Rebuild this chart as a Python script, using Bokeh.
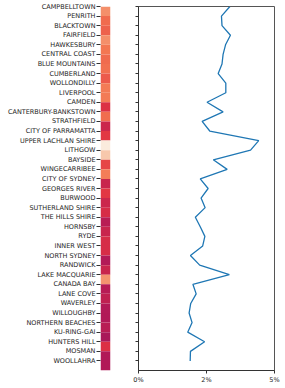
from bokeh.plotting import figure
from bokeh.layouts import row
from bokeh.models import Range1d, FixedTicker, LinearColorMapper, ColumnDataSource, PrintfTickFormatter
from bokeh.embed import file_html
from bokeh.resources import INLINE

# ---- data ----
categories = [
    "CAMPBELLTOWN", "PENRITH", "BLACKTOWN", "FAIRFIELD", "HAWKESBURY", "CENTRAL COAST",
    "BLUE MOUNTAINS", "CUMBERLAND", "WOLLONDILLY", "LIVERPOOL", "CAMDEN",
    "CANTERBURY-BANKSTOWN", "STRATHFIELD", "CITY OF PARRAMATTA", "UPPER LACHLAN SHIRE",
    "LITHGOW", "BAYSIDE", "WINGECARRIBEE", "CITY OF SYDNEY", "GEORGES RIVER", "BURWOOD",
    "SUTHERLAND SHIRE", "THE HILLS SHIRE", "HORNSBY", "RYDE", "INNER WEST", "NORTH SYDNEY",
    "RANDWICK", "LAKE MACQUARIE", "CANADA BAY", "LANE COVE", "WAVERLEY", "WILLOUGHBY",
    "NORTHERN BEACHES", "KU-RING-GAI", "HUNTERS HILL", "MOSMAN", "WOOLLAHRA",
]
heat_values = [
    0.77, 0.69, 0.67, 0.77, 0.715, 0.69, 0.70, 0.655, 0.725, 0.725,
    0.555, 0.695, 0.51, 0.58, 1.00, 0.91, 0.61, 0.73, 0.50, 0.58,
    0.51, 0.54, 0.46, 0.50, 0.54, 0.54, 0.445, 0.50, 0.785, 0.455,
    0.48, 0.445, 0.44, 0.46, 0.42, 0.555, 0.44, 0.44,
]
line_pct = [
    3.36, 3.05, 3.07, 3.38, 3.20, 3.11, 3.07, 2.93, 3.21, 3.21,
    2.52, 3.11, 2.34, 2.62, 4.42, 4.12, 2.75, 3.26, 2.27, 2.56,
    2.30, 2.45, 2.09, 2.27, 2.44, 2.36, 1.91, 2.25, 3.34, 2.00,
    2.12, 1.92, 1.86, 1.97, 1.81, 2.43, 1.91, 1.90,
]
x_ticks = [0, 2.5, 5]

n = len(categories)
idx = list(range(n))

# ---- rocket-like palette ----
anchors = [(0.0, "#03051A"), (1/7, "#35193E"), (2/7, "#701F57"), (3/7, "#AD1759"),
           (4/7, "#E13342"), (5/7, "#F37651"), (6/7, "#F6B48F"), (1.0, "#FAEBDD")]
def _rgb(h):
    return [int(h[i:i+2], 16) for i in (1, 3, 5)]
palette = []
for k in range(256):
    t = k / 255
    for (t0, c0), (t1, c1) in zip(anchors[:-1], anchors[1:]):
        if t0 <= t <= t1:
            f = (t - t0) / (t1 - t0)
            a, b = _rgb(c0), _rgb(c1)
            palette.append("#%02x%02x%02x" % tuple(round(a[j] + (b[j] - a[j]) * f) for j in range(3)))
            break
mapper = LinearColorMapper(palette=palette, low=0, high=1)

FONT = "DejaVu Sans"
TXT = "#1e1e1e"
H = 386
TOP = 6
BOTTOM = 14

# ---- left: heatmap column ----
src1 = ColumnDataSource(dict(top=idx, bottom=[i + 1 for i in idx], heat=heat_values))
p1 = figure(width=118, height=H, x_range=Range1d(0, 1), y_range=Range1d(n, 0),
            output_backend="svg", toolbar_location=None,
            min_border_left=100, min_border_right=8, min_border_top=TOP, min_border_bottom=BOTTOM)
p1.quad(left=0, right=1, top="top", bottom="bottom", source=src1,
        fill_color={"field": "heat", "transform": mapper}, line_color=None)
p1.xaxis.visible = False
p1.grid.visible = False
p1.outline_line_color = None
ya = p1.yaxis[0]
ya.ticker = FixedTicker(ticks=idx)
ya.major_label_overrides = {i: c for i, c in enumerate(categories)}
ya.axis_line_color = None
ya.minor_tick_line_color = None
ya.major_tick_out = 4
ya.major_tick_in = 0
ya.major_tick_line_color = "#333333"
ya.major_label_standoff = 1
ya.major_label_text_font = FONT
ya.major_label_text_font_size = "6.5px"
ya.major_label_text_color = TXT

# ---- right: line ----
p2 = figure(width=165, height=H, x_range=Range1d(0, 5), y_range=Range1d(n, 0),
            output_backend="svg", toolbar_location=None,
            min_border_left=20, min_border_right=9, min_border_top=TOP, min_border_bottom=BOTTOM)
p2.line(x=line_pct, y=idx, line_color="#1f77b4", line_width=1.3)
p2.grid.visible = False
p2.outline_line_color = "#555555"
xa = p2.xaxis[0]
xa.ticker = FixedTicker(ticks=x_ticks)
xa.formatter = PrintfTickFormatter(format="%d%%")
xa.minor_tick_line_color = None
xa.major_tick_out = 3
xa.major_tick_in = 0
xa.major_label_standoff = 2
xa.axis_line_color = "#333333"
xa.major_tick_line_color = "#333333"
xa.major_label_text_font = FONT
xa.major_label_text_font_size = "6.5px"
xa.major_label_text_color = TXT
ya2 = p2.yaxis[0]
ya2.ticker = FixedTicker(ticks=idx)
ya2.major_label_overrides = {i: "" for i in idx}
ya2.minor_tick_line_color = None
ya2.major_tick_out = 3
ya2.major_tick_in = 0
ya2.axis_line_color = "#333333"
ya2.major_tick_line_color = "#333333"

layout = row(p1, p2)
open("out.html", "w").write(file_html(layout, INLINE))
